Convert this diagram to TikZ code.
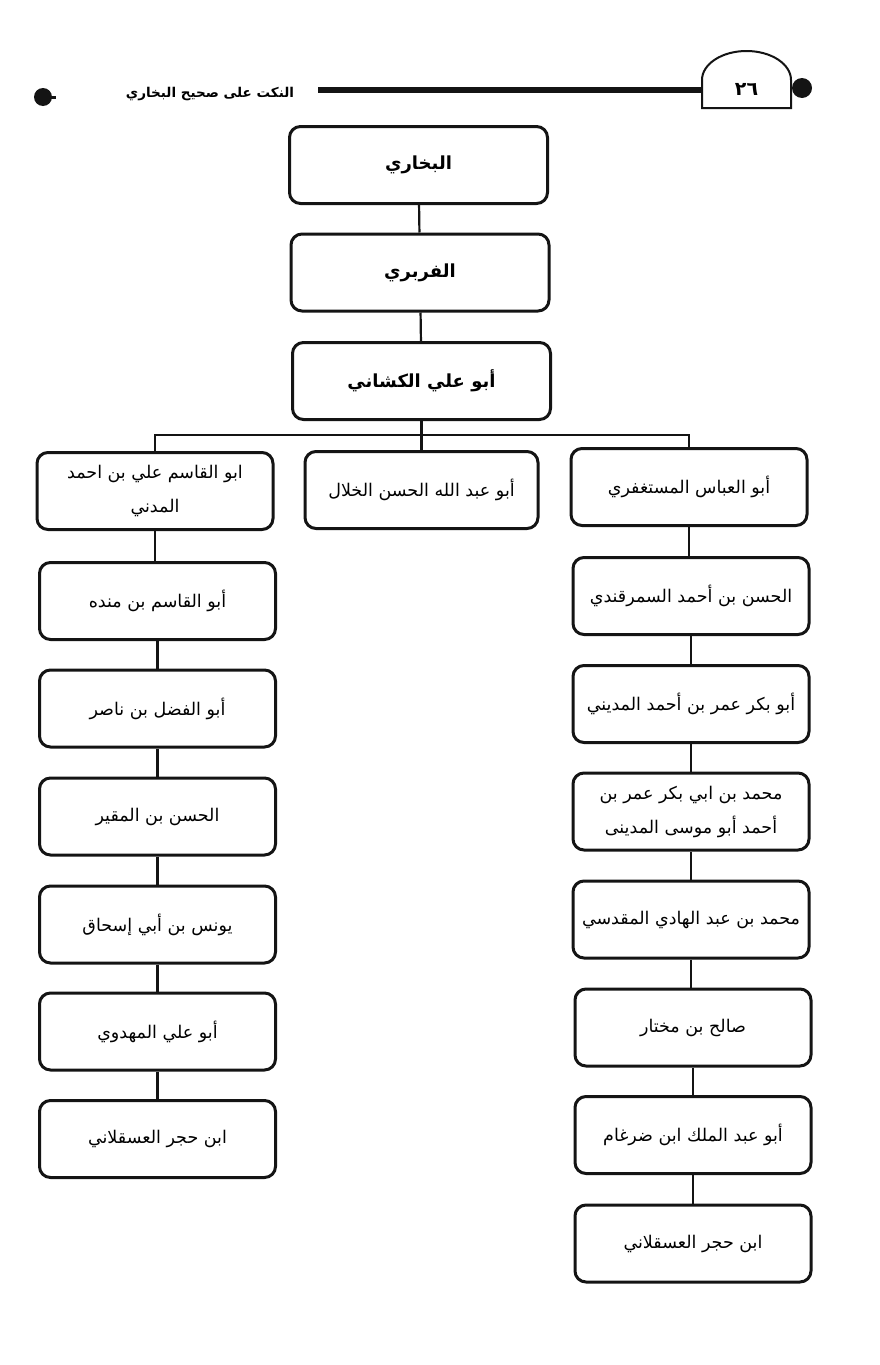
\documentclass[tikz,border=0pt]{standalone}
\usepackage{fontspec}
\usepackage{tikz}
\usetikzlibrary{positioning, calc}
\TeXXeTstate=1
\newfontfamily\arabicfont[Script=Arabic]{DejaVu Sans}
\definecolor{inkBlack}{RGB}{20,20,20}

\begin{document}
\begin{tikzpicture}[
  x=1pt, y=-1pt,
  personbox/.style={draw=inkBlack, line width=3pt, rounded corners=11pt, align=center,
    minimum width=236pt, minimum height=77pt, inner sep=4pt,
    font=\arabicfont\fontsize{17.5}{34}\selectfont},
  topbox/.style={personbox, minimum width=258pt, font=\arabicfont\bfseries\fontsize{18}{30}\selectfont},
  link/.style={draw=inkBlack, line width=2.2pt},
]
  \useasboundingbox[fill=white] (0,0) rectangle (879,1365);

  % page header
  \draw[inkBlack, line width=6pt] (318,90) -- (702,90);
  \draw[inkBlack, line width=2pt, fill=white] (702,108) -- (702,80)
    arc[start angle=180, end angle=360, x radius=44.5, y radius=29] -- (791,108) -- cycle;
  \node[font=\arabicfont\bfseries\fontsize{19}{20}\selectfont] (pageno) at (746.5,89) {٢٦};
  \fill[inkBlack] (802,88) circle (10);
  \node[font=\arabicfont\bfseries\fontsize{13.5}{20}\selectfont] (title) at (210,94)
    {\beginR النكت على صحيح البخاري\endR};
  \fill[inkBlack] (43,97) circle (9);
  \draw[inkBlack, line width=3pt] (43,97) -- (56,97);

  % main chain
  \node[topbox] (bukhari) at (418.5,165) {\beginR البخاري\endR};
  \node[topbox] (firabri) at (420,272.5) {\beginR الفربري\endR};
  \node[topbox] (kushani) at (421.5,381) {\beginR أبو علي الكشاني\endR};

  % three pupils of al-Kushani
  \node[personbox] (madani)   at (155,491) {\beginR ابو القاسم علي بن احمد\endR\\ \beginR المدني\endR};
  \node[personbox, minimum width=233pt] (khallal) at (421.5,490) {\beginR أبو عبد الله الحسن الخلال\endR};
  \node[personbox] (mustaghfiri) at (689,487) {\beginR أبو العباس المستغفري\endR};

  % left chain
  \node[personbox] (mandah) at (157.5,601)  {\beginR أبو القاسم بن منده\endR};
  \node[personbox] (nasir)  at (157.5,708.5) {\beginR أبو الفضل بن ناصر\endR};
  \node[personbox] (muqayyir) at (157.5,816.5) {\beginR الحسن بن المقير\endR};
  \node[personbox] (yunus)  at (157.5,924.5) {\beginR يونس بن أبي إسحاق\endR};
  \node[personbox] (mahdawi) at (157.5,1031.5) {\beginR أبو علي المهدوي\endR};
  \node[personbox] (hajarA) at (157.5,1139) {\beginR ابن حجر العسقلاني\endR};

  % right chain
  \node[personbox] (samarqandi) at (691,596) {\beginR الحسن بن أحمد السمرقندي\endR};
  \node[personbox] (umar)   at (691,704) {\beginR أبو بكر عمر بن أحمد المديني\endR};
  \node[personbox] (musa)   at (691,811.5) {\beginR محمد بن ابي بكر عمر بن\endR\\ \beginR أحمد أبو موسى المدينى\endR};
  \node[personbox] (maqdisi) at (691,919.5) {\beginR محمد بن عبد الهادي المقدسي\endR};
  \node[personbox] (salih)  at (693,1027.5) {\beginR صالح بن مختار\endR};
  \node[personbox] (dirgham) at (693,1135) {\beginR أبو عبد الملك ابن ضرغام\endR};
  \node[personbox] (hajarB) at (693,1243.5) {\beginR ابن حجر العسقلاني\endR};

  % connectors
  \draw[link] (bukhari) -- (firabri);
  \draw[link] (firabri) -- (kushani);
  \draw[link] (kushani) -- (khallal);
  \coordinate (fork) at ($(kushani.south)+(0,14)$);
  \draw[link] (madani.north) |- (fork) -| (mustaghfiri.north);
  \foreach \a/\b in {madani/mandah, mandah/nasir, nasir/muqayyir, muqayyir/yunus,
                     yunus/mahdawi, mahdawi/hajarA}
    \draw[link] (\a.south) -- (\a.south |- \b.north);
  \foreach \a/\b in {mustaghfiri/samarqandi, samarqandi/umar, umar/musa, musa/maqdisi,
                     maqdisi/salih, salih/dirgham, dirgham/hajarB}
    \draw[link] (\a.south) -- (\a.south |- \b.north);
\end{tikzpicture}
\end{document}
